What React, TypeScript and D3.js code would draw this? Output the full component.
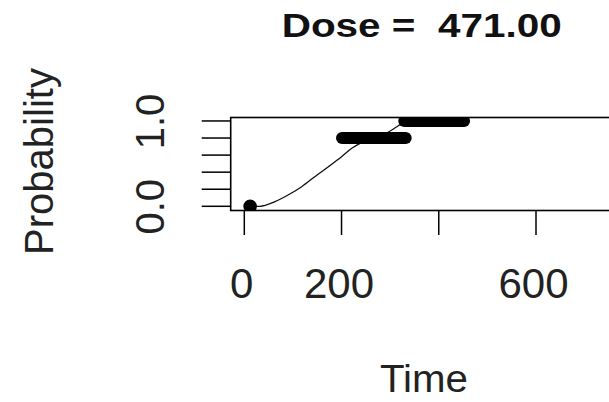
import React from "react";
import * as d3 from "d3";

// ---- data ----
const titleText = "Dose =  471.00";
const xLabel = "Time";
const yLabel = "Probability";

const xTickValues = [0, 200, 400, 600];
const xTickLabels = ["0", "200", "", "600"]; // R dropped "400" (overlap)
const yTickValues = [0, 0.2, 0.4, 0.6, 0.8, 1.0];
const yTickLabels = ["0.0", "", "", "", "", "1.0"];

// observed single point
const pointTime = [12];
const pointProb = [0];

// thick observation intervals
const segStart = [201, 329];
const segEnd = [332, 452];
const segProb = [0.8, 1.0];

// fitted curve
const curveTime = [12, 32, 63, 90, 118, 145, 173, 200, 221, 238, 290, 313, 324, 350];
const curveProb = [0, 0.0, 0.054, 0.132, 0.23, 0.347, 0.464, 0.581, 0.68, 0.738, 0.851, 0.929, 0.968, 1.0];

// ---- layout ----
const W = 609;
const H = 402;
const box = { left: 230.7, top: 117.5, bottom: 210.5, right: 640 };
const FONT = "'Liberation Sans', Arial, Helvetica, sans-serif";

export default function App() {
  const x = d3.scaleLinear().domain([0, 600]).range([244.3, 536]);
  const y = d3.scaleLinear().domain([0, 1]).range([206.3, 120.96]);

  const line = d3
    .line<number>()
    .x((_, i) => x(curveTime[i]))
    .y((d) => y(d))
    .curve(d3.curveMonotoneX);

  const curvePath = line(curveProb) || "";

  return (
    <svg
      width={W}
      height={H}
      viewBox={`0 0 ${W} ${H}`}
      style={{ position: "absolute", left: 0, top: 0, display: "block", background: "#fff" }}
    >
      <defs>
        <clipPath id="plotClip">
          <rect x={box.left} y={box.top} width={box.right - box.left} height={box.bottom - box.top} />
        </clipPath>
      </defs>
      <rect x={0} y={0} width={W} height={H} fill="#fff" />

      {/* title */}
      <text
        x={421.7}
        y={36.7}
        textAnchor="middle"
        fontFamily={FONT}
        fontWeight="bold"
        fontSize={33}
        textLength={280}
        lengthAdjust="spacingAndGlyphs"
        fill="#111"
        style={{ whiteSpace: "pre" }}
        xmlSpace="preserve"
      >
        {titleText}
      </text>

      {/* plot contents */}
      <g clipPath="url(#plotClip)">
        <path d={curvePath} fill="none" stroke="#111" strokeWidth={1.3} />
        {segProb.map((p, i) => (
          <line
            key={"seg" + i}
            x1={x(segStart[i])}
            x2={x(segEnd[i])}
            y1={y(p)}
            y2={y(p)}
            stroke="#000"
            strokeWidth={12}
            strokeLinecap="round"
          />
        ))}
        {pointProb.map((p, i) => (
          <circle key={"pt" + i} cx={x(pointTime[i])} cy={y(p)} r={6.8} fill="#000" />
        ))}
      </g>

      {/* box */}
      <rect
        x={box.left}
        y={box.top}
        width={box.right - box.left}
        height={box.bottom - box.top}
        fill="none"
        stroke="#000"
        strokeWidth={1.6}
      />

      {/* y axis ticks */}
      {yTickValues.map((v, i) => (
        <line
          key={"yt" + i}
          x1={201.7}
          x2={box.left}
          y1={y(v)}
          y2={y(v)}
          stroke="#000"
          strokeWidth={1.5}
        />
      ))}
      {yTickValues.map((v, i) =>
        yTickLabels[i] ? (
          <text
            key={"yl" + i}
            transform={`translate(164,${y(v) + 0.5}) rotate(-90)`}
            textAnchor="middle"
            fontFamily={FONT}
            fontSize={40}
            fill="#222"
          >
            {yTickLabels[i]}
          </text>
        ) : null
      )}

      {/* x axis ticks */}
      {xTickValues.map((v, i) => (
        <line
          key={"xt" + i}
          x1={x(v)}
          x2={x(v)}
          y1={box.bottom}
          y2={235}
          stroke="#000"
          strokeWidth={1.5}
        />
      ))}
      {xTickValues.map((v, i) =>
        xTickLabels[i] ? (
          <text
            key={"xl" + i}
            x={x(v) - 2.5}
            y={298}
            textAnchor="middle"
            fontFamily={FONT}
            fontSize={42}
            fill="#222"
          >
            {xTickLabels[i]}
          </text>
        ) : null
      )}

      {/* axis titles */}
      <text
        x={424}
        y={391.7}
        textAnchor="middle"
        fontFamily={FONT}
        fontSize={38}
        textLength={88}
        lengthAdjust="spacingAndGlyphs"
        fill="#222"
      >
        {xLabel}
      </text>
      <text
        transform={`translate(53,161.5) rotate(-90)`}
        textAnchor="middle"
        fontFamily={FONT}
        fontSize={40}
        fill="#222"
      >
        {yLabel}
      </text>
    </svg>
  );
}
